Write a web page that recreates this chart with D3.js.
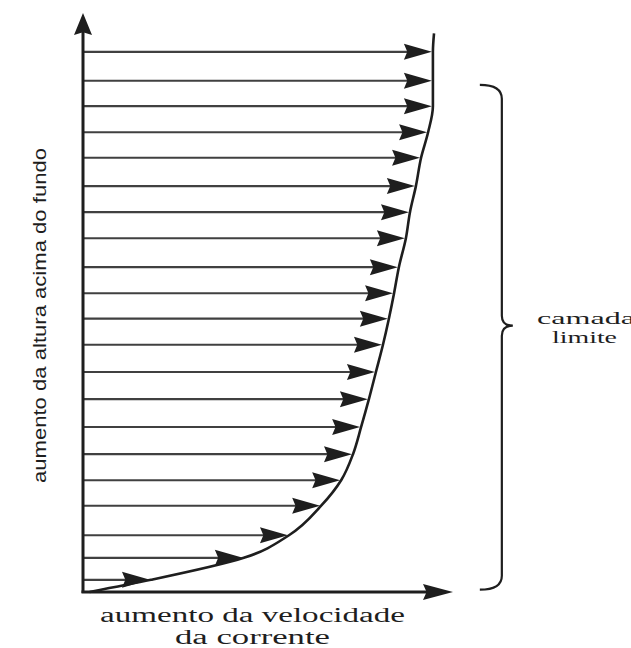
<!DOCTYPE html>
<html>
<head>
<meta charset="utf-8">
<script src="https://cdn.jsdelivr.net/npm/d3@7"></script>
<style>
  body { margin: 0; background: #fff; }
  svg { display: block; }
</style>
</head>
<body>
<script>
// height above the bed (0-100) and current speed at that height (0-100)
var heights = [93.3, 88.3, 83.9, 79.4, 75.0, 70.1, 65.6, 61.1, 56.1, 51.6, 47.2,
               42.7, 38.0, 33.3, 28.5, 23.8, 19.3, 14.9, 9.8, 5.9, 2.1];
var speeds  = [94.3, 94.3, 94.3, 93.0, 91.1, 89.7, 88.1, 87.0, 85.1, 83.8, 82.4,
               80.8, 78.9, 77.0, 74.9, 72.7, 69.5, 64.1, 55.4, 43.2, 18.1];

// ends of the velocity profile curve
var profileTop    = {h: 96.5, v: 94.6};
var profileBottom = {h: 0, v: 1.5};

// extent of the boundary layer (brace)
var layer = [0.4, 87.6];
var layerMid = 46;

var xLabel = ["aumento da velocidade", "da corrente"];
var yLabel = "aumento da altura acima do fundo";
var layerLabel = ["camada", "limite"];

// set the dimensions
var width = 631,
    height = 648;

// set the ranges
var x = d3.scaleLinear().domain([0, 100]).range([83, 453]);
var y = d3.scaleLinear().domain([0, 100]).range([592, 13]);

var ink = "#1e1e1e";

var svg = d3.select("body").append("svg")
    .attr("width", width)
    .attr("height", height);

// arrowhead pointing in direction (dx, dy), tip at (tx, ty)
function head(tx, ty, dx, dy, len, half) {
  var nx = -dy, ny = dx;
  var bx = tx - dx * len, by = ty - dy * len;
  var nb = len * 0.12;
  return "M" + tx + "," + ty +
    "L" + (bx + nx * half) + "," + (by + ny * half) +
    "L" + (bx + dx * nb) + "," + (by + dy * nb) +
    "L" + (bx - nx * half) + "," + (by - ny * half) + "Z";
}

var data = heights.map(function(h, i) { return {h: h, v: speeds[i]}; });

// velocity arrows
var arrows = svg.append("g");
arrows.selectAll("line")
    .data(data)
  .enter().append("line")
    .attr("x1", x(0))
    .attr("x2", function(d) { return x(d.v) - 20; })
    .attr("y1", function(d) { return y(d.h); })
    .attr("y2", function(d) { return y(d.h); })
    .attr("stroke", ink)
    .attr("stroke-opacity", 0.85)
    .attr("stroke-width", 2.2);

arrows.selectAll("path")
    .data(data)
  .enter().append("path")
    .attr("d", function(d) { return head(x(d.v), y(d.h), 1, 0, 28, 8); })
    .attr("fill", ink);

// velocity profile
var profile = [profileTop].concat(data, [profileBottom]);
var line = d3.line()
    .x(function(d) { return x(d.v) + 1; })
    .y(function(d) { return y(d.h); })
    .curve(d3.curveMonotoneY);

svg.append("path")
    .datum(profile)
    .attr("d", line)
    .attr("fill", "none")
    .attr("stroke", ink)
    .attr("stroke-width", 2.6);

// axes
svg.append("line")
    .attr("x1", x(0)).attr("x2", x(0))
    .attr("y1", y(0) + 1).attr("y2", y(100) + 18)
    .attr("stroke", ink)
    .attr("stroke-width", 3);
svg.append("path")
    .attr("d", head(x(0), y(100), 0, -1, 22, 9))
    .attr("fill", ink);

svg.append("line")
    .attr("x1", x(0) - 1.5).attr("x2", x(100) - 20)
    .attr("y1", y(0)).attr("y2", y(0))
    .attr("stroke", ink)
    .attr("stroke-width", 3);
svg.append("path")
    .attr("d", head(x(100), y(0), 1, 0, 30, 8))
    .attr("fill", ink);

// boundary layer brace
var bx = x(113.2), hx = bx - 22, cx = bx + 11;
var yt = y(layer[1]), yb = y(layer[0]), ym = y(layerMid);
svg.append("path")
    .attr("d", "M" + hx + "," + yt +
      "Q" + bx + "," + yt + " " + bx + "," + (yt + 14) +
      "L" + bx + "," + (ym - 10) +
      "Q" + bx + "," + ym + " " + cx + "," + ym +
      "Q" + bx + "," + ym + " " + bx + "," + (ym + 10) +
      "L" + bx + "," + (yb - 14) +
      "Q" + bx + "," + yb + " " + hx + "," + yb)
    .attr("fill", "none")
    .attr("stroke", ink)
    .attr("stroke-width", 2.2);

// labels
var serif = "'Liberation Serif', 'DejaVu Serif', serif";

svg.append("text")
    .attr("x", 537).attr("y", 324)
    .attr("font-family", serif)
    .attr("font-size", 17)
    .attr("textLength", 98)
    .attr("lengthAdjust", "spacingAndGlyphs")
    .attr("fill", ink)
    .text(layerLabel[0]);
svg.append("text")
    .attr("x", 552).attr("y", 343)
    .attr("font-family", serif)
    .attr("font-size", 17)
    .attr("textLength", 65)
    .attr("lengthAdjust", "spacingAndGlyphs")
    .attr("fill", ink)
    .text(layerLabel[1]);

svg.append("text")
    .attr("x", 100).attr("y", 622)
    .attr("font-family", serif)
    .attr("font-size", 20)
    .attr("textLength", 305)
    .attr("lengthAdjust", "spacingAndGlyphs")
    .attr("fill", ink)
    .text(xLabel[0]);
svg.append("text")
    .attr("x", 175).attr("y", 644)
    .attr("font-family", serif)
    .attr("font-size", 20)
    .attr("textLength", 155)
    .attr("lengthAdjust", "spacingAndGlyphs")
    .attr("fill", ink)
    .text(xLabel[1]);

svg.append("text")
    .attr("transform", "translate(46,483) rotate(-90)")
    .attr("font-family", "'Liberation Sans', Arial, sans-serif")
    .attr("font-size", 18)
    .attr("textLength", 335)
    .attr("lengthAdjust", "spacingAndGlyphs")
    .attr("fill", ink)
    .text(yLabel);
</script>
</body>
</html>
